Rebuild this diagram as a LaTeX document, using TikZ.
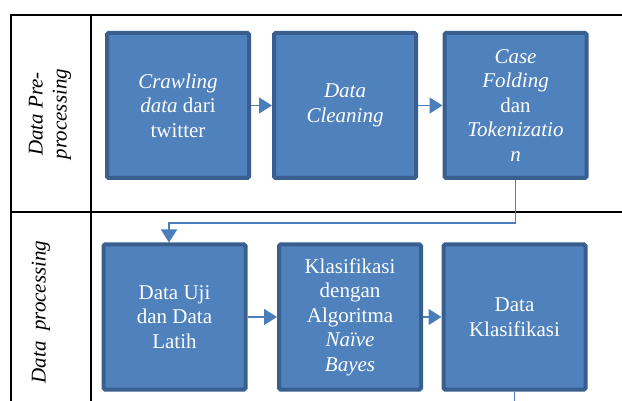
\documentclass[tikz,border=0pt]{standalone}
\usepackage{fontspec}
\setmainfont{Liberation Serif}
\usetikzlibrary{arrows.meta}
\definecolor{boxfill}{HTML}{4F81BD}
\definecolor{boxline}{HTML}{3A5F8E}
\definecolor{conn}{HTML}{4A7EBB}
\begin{document}
\begin{tikzpicture}[x=1pt,y=-1pt,
  stepbox/.style={draw=boxline, line width=4pt, fill=boxfill, rounded corners=1.5pt,
    minimum width=142pt, minimum height=145pt, text=white, align=center,
    font=\fontsize{21}{24.5}\selectfont, inner sep=0pt},
  conn/.style={draw=conn, line width=1.5pt},
  arr/.style={conn, -{Triangle[length=13pt,width=16pt]}},
  grid/.style={draw=black, line width=2pt},
  lab/.style={rotate=90, align=center, font=\fontsize{21}{24}\selectfont\itshape}]
\useasboundingbox (0,0) rectangle (622,401);
% table lines
\draw[grid] (11,401) -- (11,15) -- (622,15);
\draw[grid] (91,15) -- (91,401);
\draw[grid] (11,212) -- (622,212);
% labels
\node[lab] (l1) at (50,114) {Data Pre-\\processing};
\node[lab] (l2) at (41,312) {Data\ \ processing};
% boxes
\node[stepbox] (b1) at (178,105.5) {\textit{Crawling}\\\textit{data} dari\\twitter};
\node[stepbox] (b2) at (345,105.5) {\textit{Data}\\\textit{Cleaning}};
\node[stepbox] (b3) at (515.5,105.5) {\textit{Case}\\\textit{Folding}\\dan\\\textit{Tokenizatio}\\\textit{n}};
\node[stepbox] (b4) at (174.5,317) {Data Uji\\dan Data\\Latih};
\node[stepbox] (b5) at (350,317) {Klasifikasi\\dengan\\Algoritma\\\textit{Naïve}\\\textit{Bayes}};
\node[stepbox] (b6) at (514.5,317) {Data\\Klasifikasi};
% connectors
\draw[arr] (b1.east) -- (b2.west);
\draw[arr] (b2.east) -- (b3.west);
\draw[arr] (b4.east) -- (b5.west);
\draw[arr] (b5.east) -- (b6.west);
\coordinate (turn) at (169,223);
\draw[arr] (b3.south) |- (turn) -- (turn |- b4.north);
\coordinate (bot) at (514.5,401);
\draw[conn] (b6.south) -- (bot);
\end{tikzpicture}
\end{document}
